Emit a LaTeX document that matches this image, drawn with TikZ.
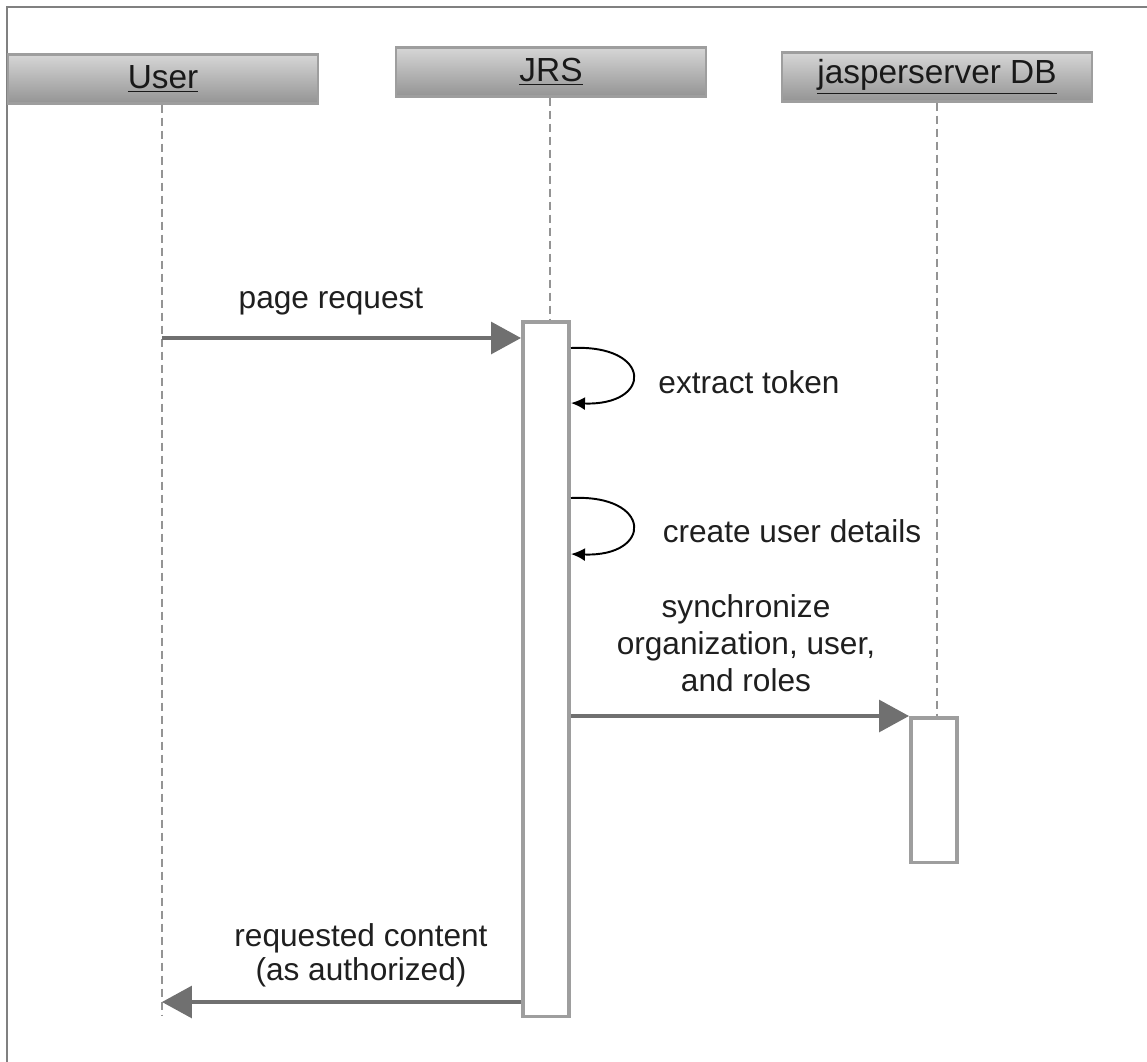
\documentclass[tikz,border=0pt]{standalone}
\usepackage{fontspec}
\setmainfont{Liberation Sans}
\usetikzlibrary{arrows.meta,positioning,calc}
\tikzset{
  headbox/.style ={draw=black!38, line width=1.4pt, top color=black!16, bottom color=black!42,
                   minimum width=6.2cm, minimum height=0.98cm, inner sep=0pt,
                   font=\fontsize{19}{20}\selectfont, text=black!90},
  actbox/.style  ={draw=black!38, line width=2pt, fill=white, minimum width=0.93cm,
                   inner sep=0pt, anchor=north},
  life/.style    ={draw=black!42, line width=1.6pt, dash pattern=on 0.17cm off 0.09cm},
  lbl/.style     ={font=\fontsize{18}{20.5}\selectfont, text=black!88, align=center},
  msg/.style     ={-{Triangle[length=6mm,width=6.4mm]}, draw=black!56, line width=1.8pt},
  selfmsg/.style ={-{Latex[length=2.8mm,width=2.6mm]}, draw=black, line width=1.1pt},
}
\begin{document}
\begin{tikzpicture}[x=0.02cm, y=-0.02cm]
\useasboundingbox (0,0) rectangle (1147,1062);
\draw[black!50, line width=1.2pt] (7,7) rectangle (1170,1090);
% lifeline heads
\node[headbox] (user) at (163,79) {\underline{User}};
\node[headbox] (jrs)  at (551,72) {\underline{JRS}};
\node[headbox] (db)   at (937,77) {\underline{jasperserver DB}};
% activations
\node[actbox, minimum height=13.9cm] (jrsact) at (546,320) {};
\node[actbox, minimum height=2.9cm]  (dbact)  at (934,716) {};
\coordinate (userend) at (162,1015);
\draw[life] (user.south -| userend) -- (userend);
\draw[life] (jrs.south -| 550,0) -- (550,0 |- jrsact.north);
\draw[life] (db.south) -- (db.south |- dbact.north);
% messages
\coordinate (req) at (162,338);
\draw[msg] (req) -- (req -| jrsact.west);
\node[lbl] (reqlbl) at (331,302) {page request};
\draw[selfmsg] (jrsact.east |- 0,348) .. controls +(82,-4) and +(82,3) .. (jrsact.east |- 0,403);
\node[lbl] (toklbl) at (749,382) {extract token};
\draw[selfmsg] (jrsact.east |- 0,498) .. controls +(82,-4) and +(82,3) .. (jrsact.east |- 0,554);
\node[lbl] (udlbl) at (792,531) {create user details};
\draw[msg] (jrsact.east |- dbact.north west) -- (dbact.north west);
\node[lbl, font=\fontsize{18}{21}\selectfont] (synlbl) at (746,643) {synchronize\\organization, user,\\and roles};
\coordinate (ret) at (162,1002);
\draw[msg] (ret -| jrsact.west) -- (ret);
\node[lbl, font=\fontsize{18}{19.5}\selectfont] (retlbl) at (361,955) {requested content\\(as authorized)};
\end{tikzpicture}
\end{document}
